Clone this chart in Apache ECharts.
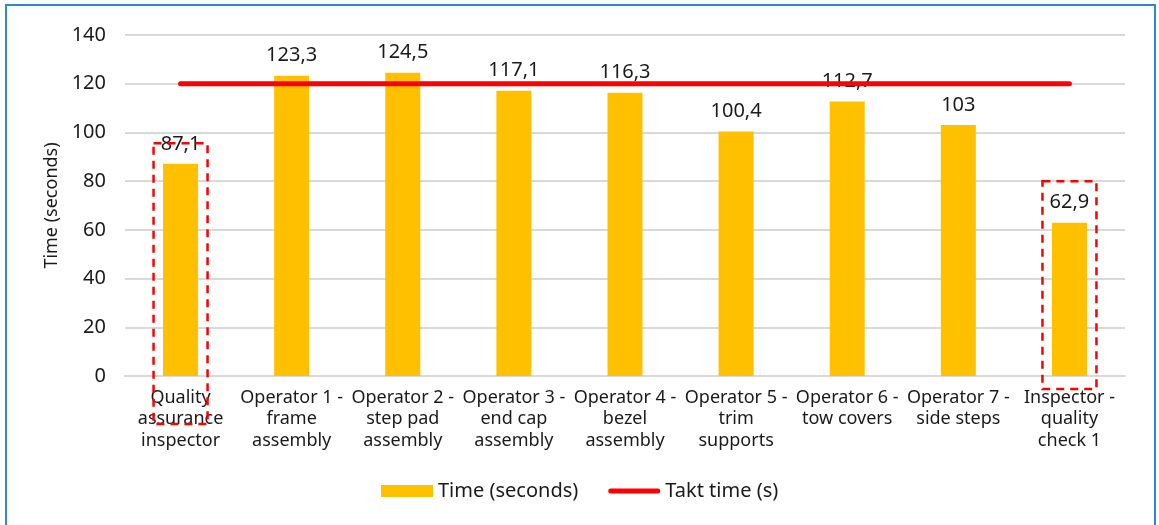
<!DOCTYPE html>
<html>
<head>
<meta charset="utf-8">
<script src="https://cdn.jsdelivr.net/npm/echarts@6/dist/echarts.min.js"></script>
<style>
html,body{margin:0;padding:0;background:#fff;}
#chart{width:1159px;height:525px;}
</style>
</head>
<body>
<div id="chart"></div>
<script>
const categories = [
  "Quality\nassurance\ninspector",
  "Operator 1 -\nframe\nassembly",
  "Operator 2 -\nstep pad\nassembly",
  "Operator 3 -\nend cap\nassembly",
  "Operator 4 -\nbezel\nassembly",
  "Operator 5 -\ntrim\nsupports",
  "Operator 6 -\ntow covers",
  "Operator 7 -\nside steps",
  "Inspector -\nquality\ncheck 1"
];
const timeSeconds = [87.1, 123.3, 124.5, 117.1, 116.3, 100.4, 112.7, 103, 62.9];
const taktTime = [120, 120, 120, 120, 120, 120, 120, 120, 120];
const yTicks = { min: 0, max: 140, interval: 20 };
// highlighted categories: [category index, top value, bottom value]
const highlightIdx = [0, 8];
const highlightTop = [95.6, 80];
const highlightBottom = [-19.7, -5.3];

const FONT = "Noto Sans";
const TXT = '#1a1a1a';
const chart = echarts.init(document.getElementById('chart'));
const option = {
  animation: false,
  textStyle: { fontFamily: FONT },
  grid: { left: 125, right: 34, top: 35, bottom: 149 },
  legend: {
    top: 476,
    left: 376,
    itemWidth: 52,
    itemHeight: 12,
    itemGap: 30,
    textStyle: { fontFamily: FONT, fontSize: 20, color: TXT },
    data: [
      { name: 'Time (seconds)', icon: 'rect' },
      { name: 'Takt time (s)', icon: 'path://M0,0 M52,12 M2.5,3.5 L49.5,3.5 A2.5,2.5 0 0 1 49.5,8.5 L2.5,8.5 A2.5,2.5 0 0 1 2.5,3.5 Z' }
    ]
  },
  xAxis: {
    type: 'category',
    data: categories,
    axisLine: { lineStyle: { color: '#d9d9d9', width: 2 } },
    axisTick: { show: false },
    axisLabel: { interval: 0, fontFamily: FONT, fontSize: 18, color: TXT, lineHeight: 21.5, margin: 11 }
  },
  yAxis: {
    type: 'value',
    min: yTicks.min, max: yTicks.max, interval: yTicks.interval,
    name: 'Time (seconds)',
    nameLocation: 'middle',
    nameGap: 58,
    nameTextStyle: { fontFamily: FONT, fontSize: 18, color: TXT },
    axisLine: { show: false },
    axisTick: { show: false },
    axisLabel: { fontFamily: FONT, fontSize: 20, color: TXT, margin: 19 },
    splitLine: { lineStyle: { color: '#d9d9d9', width: 2 } }
  },
  series: [
    {
      name: 'Time (seconds)',
      type: 'bar',
      data: timeSeconds,
      barWidth: 35,
      itemStyle: { color: '#FFC000' },
      label: {
        show: true, position: 'top', distance: 10,
        fontFamily: FONT, fontSize: 20, color: TXT,
        formatter: p => String(p.value).replace('.', ',')
      },
      z: 2
    },
    {
      name: 'Takt time (s)',
      type: 'line',
      data: taktTime,
      symbol: 'none',
      lineStyle: { color: '#FF0000', width: 5, cap: 'round' },
      itemStyle: { color: '#FF0000' },
      z: 2
    }
  ]
};
chart.setOption(option);

function drawAnnotations() {
  const boxes = highlightIdx.map((ci, i) => {
    const topPt = chart.convertToPixel({ gridIndex: 0 }, [ci, highlightTop[i]]);
    const botPt = chart.convertToPixel({ gridIndex: 0 }, [ci, highlightBottom[i]]);
    const w = 54;
    return {
      type: 'rect',
      shape: { x: topPt[0] - w / 2, y: topPt[1], width: w, height: botPt[1] - topPt[1] },
      style: { fill: 'none', stroke: '#FF0000', lineWidth: 2.5, lineDash: [8, 6] },
      z: 10
    };
  });
  boxes.push({
    type: 'rect',
    shape: { x: 6, y: 5, width: 1149, height: 540 },
    style: { fill: 'none', stroke: '#2E86DE', lineWidth: 2 },
    z: 11, silent: true
  });
  chart.setOption({ graphic: boxes });
}
drawAnnotations();
</script>
</body>
</html>
